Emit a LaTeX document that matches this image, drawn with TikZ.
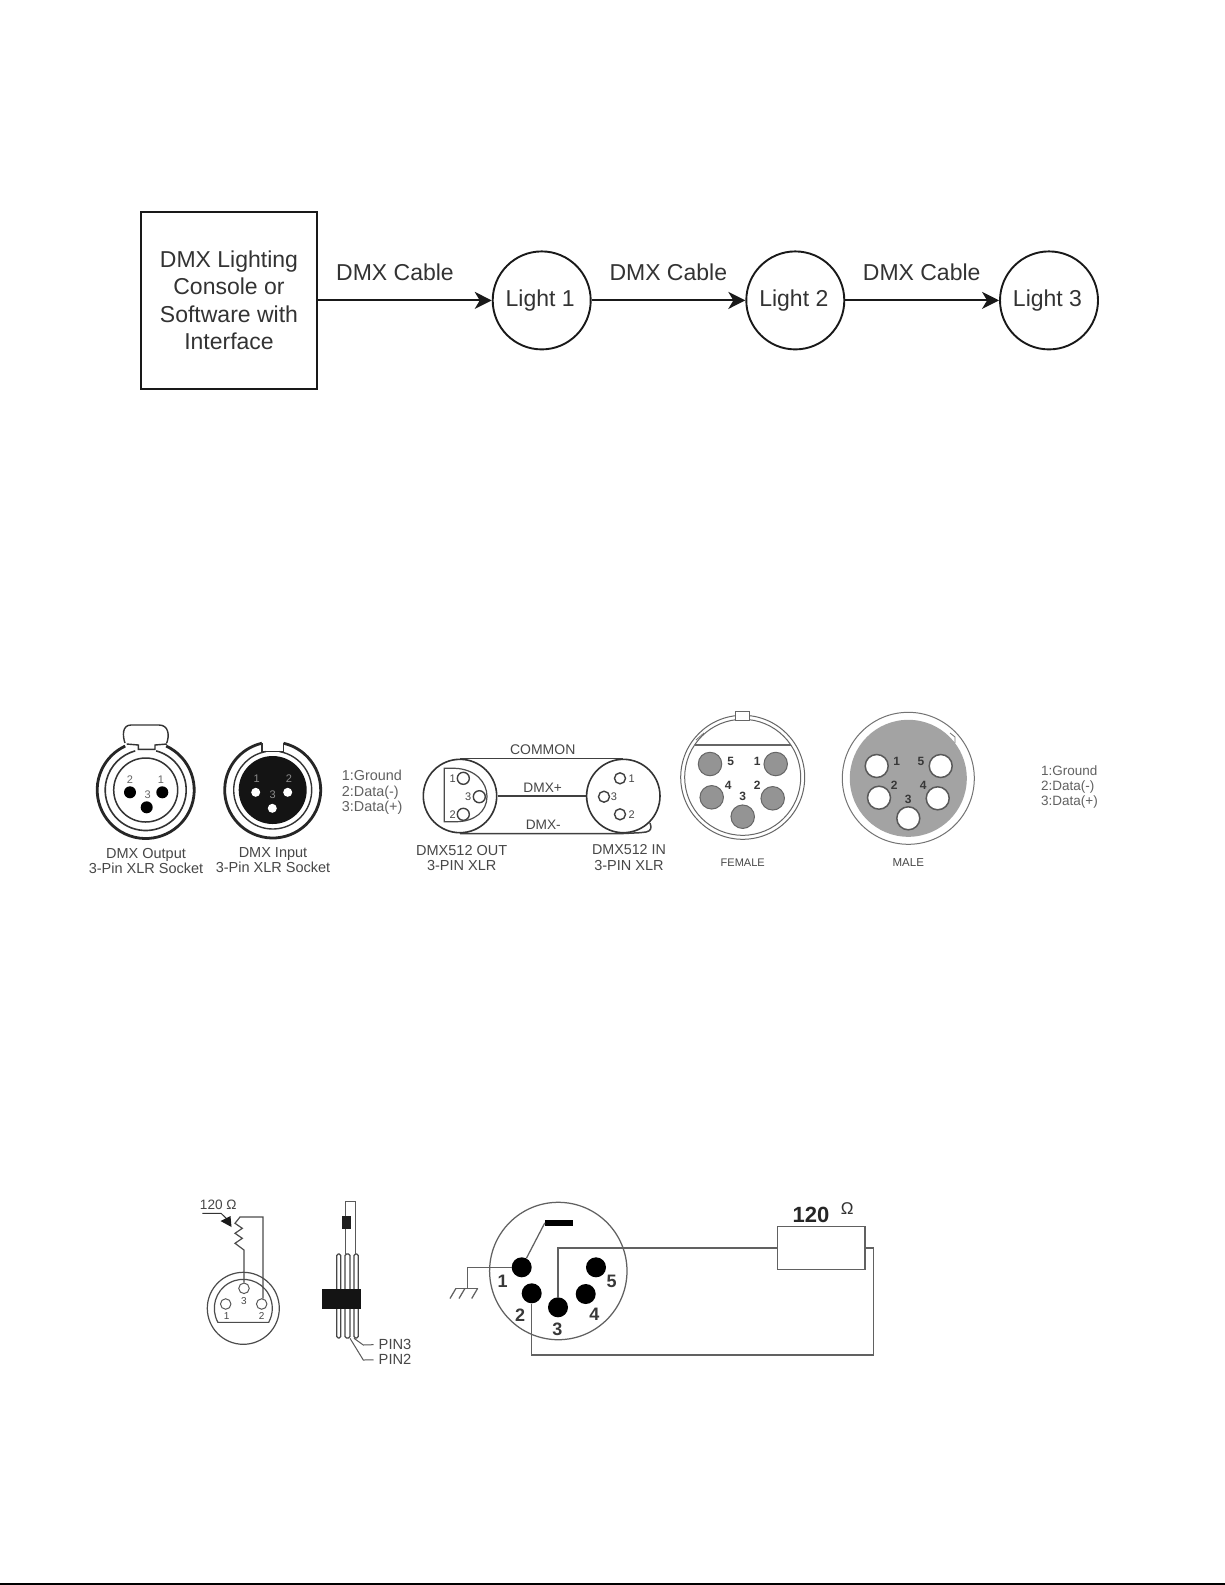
\documentclass[tikz,border=0pt]{standalone}
\usepackage{fontspec}
\setmainfont{Liberation Sans}
\usetikzlibrary{arrows.meta,calc}
\newcommand{\fs}[1]{\fontsize{#1}{#1}\selectfont}
\newcommand{\lbl}[1]{\raisebox{-2.5pt}{#1}\hspace*{3pt}}
\tikzset{
  big/.style={font=\fontsize{23}{27.3}\selectfont,text=black!80,inner sep=0pt,align=center},
  cap/.style={font=\fs{#1},text=black!72,inner sep=0pt,align=center},
  capl/.style={font=\fontsize{14.4}{15.5}\selectfont,text=black!62,inner sep=0pt,align=left,anchor=west},
  lightnode/.style={circle,draw=black!90,line width=1.9pt,minimum size=98pt,inner sep=0pt,big},
  flow/.style={draw=black!90,line width=1.9pt,-{Stealth[length=17pt,width=17pt,inset=5pt]}},
  pinb/.style={circle,fill=black,draw=none,minimum size=#1,inner sep=0pt},
  pinw/.style={circle,fill=white,draw=black!75,line width=1.4pt,minimum size=#1,inner sep=0pt},
  pingray/.style={circle,fill=black!42,draw=black!60,line width=1pt,minimum size=23.5pt,inner sep=0pt},
  pinwg/.style={circle,fill=white,draw=black!65,line width=1.5pt,minimum size=23pt,inner sep=0pt},
  wire/.style={draw=black!62,line width=1.25pt},
  thin/.style={draw=black!70,line width=1.2pt},
  numb/.style={font=\fs{12}\bfseries,text=black!78,inner sep=0pt},
  numc/.style={font=\fs{18}\bfseries,text=black!78,inner sep=0pt},
}
\begin{document}
\begin{tikzpicture}[x=1pt,y=-1pt]
\useasboundingbox (0,0) rectangle (1225,1585);
\fill[white] (0,0) rectangle (1225,1585);

% ---- top flow ----
\node[draw=black!90,line width=1.9pt,minimum width=176pt,minimum height=176.7pt,inner sep=0pt,big] (console) at (229,300.4) {DMX Lighting\\Console or\\Software with\\Interface};
\node[lightnode] (light1) at (541.7,300.4) {\lbl{Light 1}};
\node[lightnode] (light2) at (795.3,300.4) {\lbl{Light 2}};
\node[lightnode] (light3) at (1049,300.4) {\lbl{Light 3}};
\draw[flow] (console) -- (light1);
\draw[flow] (light1) -- (light2);
\draw[flow] (light2) -- (light3);
\node[big] (c1) at (395,272.7) {DMX Cable};
\node[big] (c2) at (668.3,272.7) {DMX Cable};
\node[big] (c3) at (921.7,272.7) {DMX Cable};

% ---- DMX output socket ----
\coordinate (oc) at (145.7,790);
\draw[black!85,line width=2.8pt] (oc) ++(295:48.5) arc[start angle=295,end angle=605,radius=48.5];
\draw[black!80,line width=1.6pt] (oc) ++(285:40.5) arc[start angle=285,end angle=615,radius=40.5];
\draw[black!80,line width=1.5pt] (oc) circle[radius=32];
\draw[black!80,line width=1.4pt] (126.7,744) -- (138.3,745) -- (138.3,749.3) -- (155,749.3) -- (155,745) -- (167,744);
\draw[black!80,line width=1.4pt] (125,743) .. controls (122.5,736) and (122,725) .. (131,725) -- (159,725) .. controls (169,725) and (169.5,736) .. (166.7,743);
\node[pinb=12pt] (o2) at (130,792.3) {};
\node[pinb=12pt] (o1) at (162.3,792.3) {};
\node[pinb=12pt] (o3) at (146.7,807.3) {};
\node[cap=11,text=black!60] (ol2) at (130,780) {2};
\node[cap=11,text=black!60] (ol1) at (161,780) {1};
\node[cap=11,text=black!60] (ol3) at (147.7,795) {3};
\node[cap=14.5] (ot) at (146,860.5) {DMX Output\\[0.5pt]3-Pin XLR Socket};

% ---- DMX input socket ----
\coordinate (ic) at (272.7,790);
\draw[black!85,line width=2.8pt] (ic) ++(283:48) arc[start angle=283,end angle=617,radius=48];
\draw[black!80,line width=1.4pt] (ic) ++(280:39) arc[start angle=280,end angle=620,radius=39];
\draw[black!80,line width=1.4pt] (262,743) -- (262,751.7) -- (283.5,751.7) -- (283.5,743);
\fill[black!92] (ic) circle[radius=34];
\node[pinb=9pt,fill=white] (i1) at (255.7,792.3) {};
\node[pinb=9pt,fill=white] (i2) at (287.7,792.3) {};
\node[pinb=9pt,fill=white] (i3) at (272.3,808.3) {};
\node[cap=11,text=black!45] (il1) at (256.7,779) {1};
\node[cap=11,text=black!45] (il2) at (289,779) {2};
\node[cap=11,text=black!45] (il3) at (272.7,794.3) {3};
\node[cap=14.5] (it) at (273,860.5) {DMX Input\\[0.5pt]3-Pin XLR Socket};
\node[capl] (legend1) at (341.7,792.7) {1:Ground\\2:Data(-)\\3:Data(+)};

% ---- XLR cable ----
\node[circle,draw=black!80,line width=1.6pt,minimum size=73.4pt,inner sep=0pt] (outc) at (460,796) {};
\node[circle,draw=black!80,line width=1.6pt,minimum size=73.4pt,inner sep=0pt] (inc) at (623.3,796) {};
\draw[black!75,line width=1.5pt] (outc.north) -- (inc.north);
\draw[black!75,line width=1.5pt] (outc.south) -- (inc.south) -- (640,832.7) -- (646,832) .. controls (651,831) and (652,828) .. (650,823);
\draw[black!75,line width=1.5pt] (outc.east) -- (inc.west);
\draw[black!70,line width=1.2pt] (444.3,768.3) -- (455,768.3) .. controls (475,769) and (487,782) .. (487,796.5) .. controls (487,811) and (475,822) .. (455,821.7) -- (444.3,821.7) -- cycle;
\node[pinw=12pt,fill=white] (a1) at (463.3,778.3) {};
\node[pinw=12pt,fill=white] (a3) at (479.3,796.7) {};
\node[pinw=12pt,fill=white] (a2) at (463.3,814.3) {};
\node[pinw=11pt] (b1) at (620,778.3) {};
\node[pinw=11pt] (b3) at (604,796.7) {};
\node[pinw=11pt] (b2) at (620,814.3) {};
\node[cap=11] (al1) at (452.7,779) {1};
\node[cap=11] (al3) at (468.3,797) {3};
\node[cap=11] (al2) at (452.7,815) {2};
\node[cap=11] (bl1) at (631.7,779) {1};
\node[cap=11] (bl3) at (614,797) {3};
\node[cap=11] (bl2) at (631.7,815) {2};
\node[cap=14] (common) at (542.7,750) {COMMON};
\node[cap=13.7] (dplus) at (542.7,787.3) {DMX+};
\node[cap=13.7] (dminus) at (543.3,824.3) {DMX-};
\node[cap=14.5] (oute) at (461.7,850) {DMX512 OUT};
\node[cap=14.5] (oute2) at (461.7,865) {3-PIN XLR};
\node[cap=14.3] (ine) at (629,850) {DMX512 IN};
\node[cap=14.5] (ine2) at (629,865) {3-PIN XLR};

% ---- 5-pin female ----
\coordinate (fc) at (742.7,777.3);
\draw[black!60,line width=1pt] (fc) circle[radius=62];
\draw[black!60,line width=1pt] (fc) circle[radius=58];
\draw[black!60,line width=1pt,fill=white] (735.7,720) rectangle (749.3,711);
\draw[black!60,line width=1.2pt] (695,745) -- (790.5,745);
\draw[black!55,line width=.8pt] (696,740) -- (704,733);
\node[pingray] (f5) at (710,764) {};
\node[pingray] (f1) at (775.7,764) {};
\node[pingray] (f4) at (711.7,797.3) {};
\node[pingray] (f2) at (772.7,798.3) {};
\node[pingray] (f3) at (742.7,816.7) {};
\node[numb] (fl5) at (730.7,761) {5};
\node[numb] (fl1) at (757.3,761) {1};
\node[numb] (fl4) at (728.3,785) {4};
\node[numb] (fl2) at (757.3,785) {2};
\node[numb] (fl3) at (742.7,796.7) {3};
\node[cap=11] (female) at (742.7,862.3) {FEMALE};

% ---- 5-pin male ----
\coordinate (mc) at (908.3,778.3);
\draw[black!55,line width=1pt] (mc) circle[radius=66];
\fill[black!36] (mc) circle[radius=58.5];
\draw[black!55,line width=.8pt] (950,733) -- (955,737) -- (955,743);
\node[pinwg] (m1) at (876.7,766) {};
\node[pinwg] (m5) at (940.7,766) {};
\node[pinwg] (m2) at (879,797.7) {};
\node[pinwg] (m4) at (937.7,798.3) {};
\node[pinwg] (m3) at (908.3,818.3) {};
\node[numb] (ml1) at (896.7,761) {1};
\node[numb] (ml5) at (921,761) {5};
\node[numb] (ml2) at (894.3,785) {2};
\node[numb] (ml4) at (923.3,785) {4};
\node[numb] (ml3) at (908.3,799.3) {3};
\node[cap=11.5] (male) at (908.3,862.3) {MALE};
\node[capl,font=\fontsize{13.5}{14.6}\selectfont] (legend2) at (1041,787) {1:Ground\\2:Data(-)\\3:Data(+)};

% ---- terminator, socket view ----
\coordinate (tc) at (243.3,1308.3);
\draw[thin] (tc) circle[radius=36];
\draw[thin] (tc) ++(151:29) arc[start angle=151,end angle=389,radius=29] -- cycle;
\node[pinw=10.5pt,draw=black!65,line width=1pt] (t3) at (244,1288.3) {};
\node[pinw=10.5pt,draw=black!65,line width=1pt] (t1) at (225.7,1304) {};
\node[pinw=10.5pt,draw=black!65,line width=1pt] (t2) at (261.7,1304) {};
\node[cap=10] (tl3) at (244,1301) {3};
\node[cap=10] (tl1) at (226.7,1316) {1};
\node[cap=10] (tl2) at (261.7,1316) {2};
\draw[thin] (t3.north) -- (244,1250) -- (235,1243.3) -- (242.3,1238.3) -- (235,1233.3) -- (242.3,1228.3) -- (235,1223.3) -- (240,1217) -- (263,1217) -- (263,1298.7);
\node[cap=13.6] (ohm) at (218.3,1205) {120 Ω};
\coordinate (arrstart) at (202.3,1213.3);
\coordinate (arrmid) at (221,1213.3);
\coordinate (arrend) at (227,1219);
\draw[black!80,line width=1pt] (arrstart) -- (arrmid) -- (arrend);
\fill[black!90] (220.5,1221) -- (230.5,1216) -- (231.5,1227) -- cycle;

% ---- terminator, side view ----
\foreach \xa/\xb in {336.7/340.7,345/350,354/358.3}{
  \draw[black!72,line width=1.3pt,rounded corners=1.5pt] (\xa,1338) -- (\xa,1254) -- (\xb,1254) -- (\xb,1338) -- cycle;
}
\fill[black!92] (322.3,1289) rectangle (360.7,1308.5);
\fill[black!88] (342.3,1215.7) rectangle (351,1229.3);
\draw[black!65,line width=1.2pt] (345.7,1216) -- (345.7,1201.3) -- (355.5,1201.3) -- (355.5,1254);
\draw[black!65,line width=1.2pt] (345.7,1229) -- (345.7,1254);
\node[cap=14.7,anchor=west] (pin3) at (378.5,1344.5) {PIN3};
\node[cap=14.7,anchor=west] (pin2) at (378.5,1359.8) {PIN2};
\draw[black!65,line width=1pt,shorten >=5pt] (354,1338.3) -- (363.3,1345) -- (pin3.west);
\draw[black!65,line width=1pt,shorten >=5pt] (350,1338.3) -- (363.3,1360) -- (pin2.west);

% ---- 5-pin terminator ----
\coordinate (pc) at (558.3,1271);
\draw[wire] (pc) circle[radius=68.7];
\node[pinb=20pt] (q1) at (521.7,1267.3) {};
\node[pinb=20pt] (q5) at (596,1267.3) {};
\node[pinb=20pt] (q2) at (531.7,1293.3) {};
\node[pinb=20pt] (q4) at (585.7,1294) {};
\node[pinb=20pt] (q3) at (558,1307.3) {};
\node[numc] (ql1) at (502.7,1281.7) {1};
\node[numc] (ql2) at (520,1315) {2};
\node[numc] (ql3) at (557.3,1329.3) {3};
\node[numc] (ql4) at (594.3,1314.3) {4};
\node[numc] (ql5) at (611.7,1281.7) {5};
\node[fill=black,minimum width=28.3pt,minimum height=5.7pt,inner sep=0pt] (bar) at (559.2,1222.8) {};
\draw[wire] (q1) -- (bar.west);
\node[draw=black!62,line width=1.25pt,minimum width=87.3pt,minimum height=42.6pt,inner sep=0pt] (res) at (821.3,1248) {};
\coordinate (gnd) at (467.3,1288.3);
\draw[wire] (q1) -- (gnd |- q1) -- (gnd);
\draw[wire] (456,1288.3) -- (477.7,1288.3);
\draw[wire] (456,1288.3) -- (450,1298.5) (465,1288.3) -- (459,1298.5) (477.7,1288.3) -- (471.7,1298.5);
\draw[wire] (q3) -- (q3 |- res.west) -- (res.west);
\draw[wire] (res.east) -- (873.3,1248) -- (873.3,1355) -- (q2 |- 0,1355) -- (q2);
\node[font=\fs{22}\bfseries,text=black!85,inner sep=0pt] (r120) at (811,1215) {120};
\node[font=\fs{17},text=black!80,inner sep=0pt] (rohm) at (847.3,1209) {Ω};

% bottom rule
\draw[black,line width=2pt] (0,1584) -- (1225,1584);
\end{tikzpicture}
\end{document}
